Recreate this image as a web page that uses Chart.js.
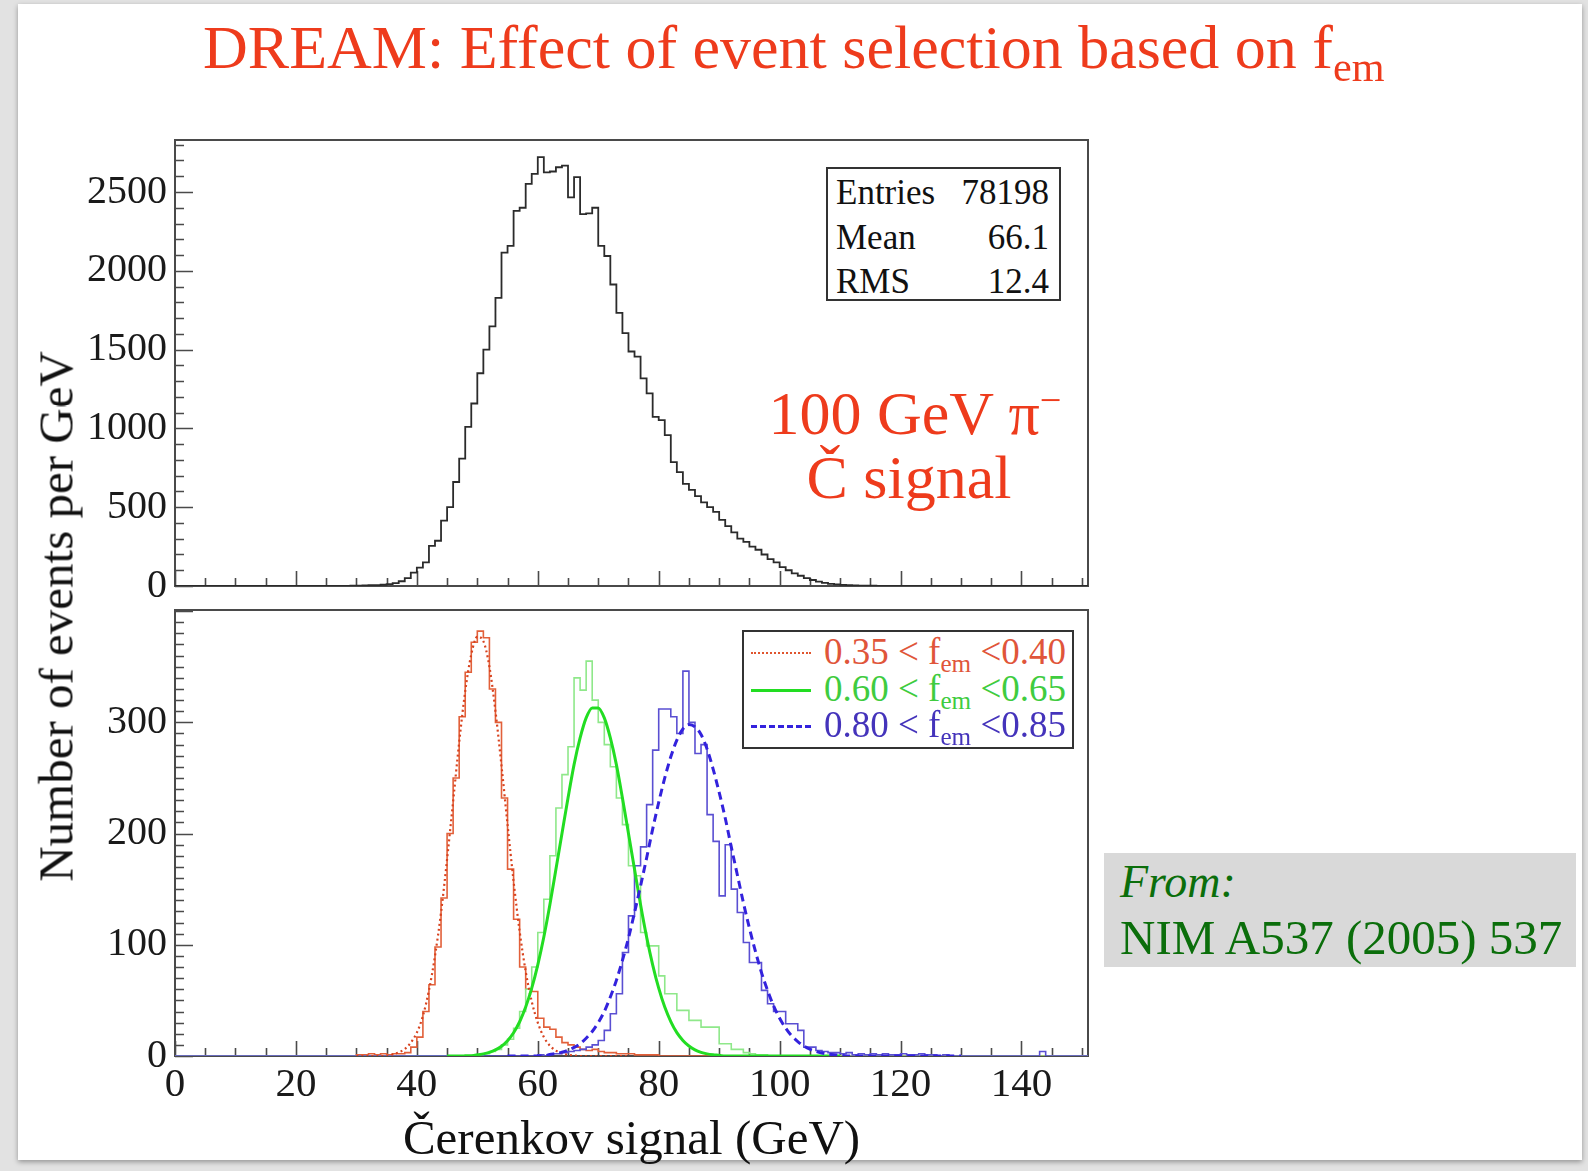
<!DOCTYPE html>
<html>
<head>
<meta charset="utf-8">
<script src="https://cdn.jsdelivr.net/npm/chart.js@4.4.1/dist/chart.umd.min.js"></script>
<style>
  html, body { margin: 0; padding: 0; }
  body {
    width: 1588px; height: 1171px; position: relative; overflow: hidden;
    background: #e2e2e2;
    font-family: "Liberation Serif", "Times New Roman", serif;
  }
  #slide { position: absolute; left: 18px; top: 4px; width: 1564px; height: 1156px; background: #fff; box-shadow: 0 2px 5px rgba(0,0,0,0.35); }
  canvas { position: absolute; left: 0; }
  .txt { position: absolute; white-space: nowrap; line-height: 1; }
  sub { font-size: 68%; vertical-align: -0.32em; line-height: 0; }
  sup { font-size: 62%; vertical-align: 0.55em; line-height: 0; }
  #title { left: 203px; top: 16px; font-size: 62px; color: #ee3b1c; }
  #ytitle { left: -244px; top: 592px; width: 600px; text-align: center; font-size: 49px; color: #111; transform: rotate(-90deg); }
  #stats { position: absolute; left: 826px; top: 167px; width: 231px; height: 130px; border: 2px solid #333; background: #fff; font-size: 35px; color: #111; }
  #stats .l { position: absolute; left: 8px; }
  #stats .r { position: absolute; right: 10px; }
  .beam { position: absolute; left: 690px; width: 450px; text-align: center; font-size: 62px; color: #ee3b1c; }
  #legend { position: absolute; left: 742px; top: 630px; width: 328px; height: 115px; border: 2px solid #333; background: #fff; font-size: 37px; }
  #legend .row { position: absolute; left: 0; height: 36px; width: 328px; }
  #legend .smp { position: absolute; left: 7px; top: 18px; width: 60px; height: 0; }
  #legend .lab { position: absolute; left: 80px; top: -1px; }
  #from { position: absolute; left: 1104px; top: 853px; width: 472px; height: 114px; background: #d9d9d9; color: #0b6e0b; }
</style>
</head>
<body>
<div id="slide"></div>
<canvas id="topChart" width="1100" height="640" style="top:0px"></canvas>
<canvas id="botChart" width="1100" height="611" style="top:560px"></canvas>

<div class="txt" id="title">DREAM: Effect of event selection based on f<sub>em</sub></div>
<div class="txt" id="ytitle">Number of events per GeV</div>

<div id="stats">
  <span class="txt l" style="top:6px">Entries</span><span class="txt r" style="top:6px">78198</span>
  <span class="txt l" style="top:51px">Mean</span><span class="txt r" style="top:51px">66.1</span>
  <span class="txt l" style="top:95px">RMS</span><span class="txt r" style="top:95px">12.4</span>
</div>

<div class="txt beam" style="top:382px">100 GeV π<sup>−</sup></div>
<div class="txt beam" style="top:446px;left:684px">Č signal</div>

<div id="legend">
  <div class="row" style="top:2px"><div class="smp" style="border-top:2px dotted #e0552e"></div><span class="txt lab" style="color:#e0553a">0.35 &lt; f<sub>em</sub> &lt;0.40</span></div>
  <div class="row" style="top:39px"><div class="smp" style="border-top:3px solid #22dd22"></div><span class="txt lab" style="color:#3fcc3f">0.60 &lt; f<sub>em</sub> &lt;0.65</span></div>
  <div class="row" style="top:75px"><div class="smp" style="border-top:3px dashed #3322dd"></div><span class="txt lab" style="color:#4433bb">0.80 &lt; f<sub>em</sub> &lt;0.85</span></div>
</div>

<div id="from">
  <div class="txt" style="left:16px;top:6px;font-size:46px;font-style:italic">From:</div>
  <div class="txt" style="left:16px;top:60px;font-size:49px">NIM A537 (2005) 537</div>
</div>

<script>
// x range of both panels, GeV (1 GeV bins)
const xMin = 0;
const xMax = 151;
const xTicks = [0, 20, 40, 60, 80, 100, 120, 140];
const topYTicks = [0, 500, 1000, 1500, 2000, 2500];
const botYTicks = [0, 100, 200, 300];

// top panel: all events, counts per bin starting at topStart GeV
const topStart = 29;
const topCounts = [2, 3, 4, 5, 6, 8, 12, 18, 30, 50,
  85, 117, 150, 255, 287, 415, 500, 660, 808, 1010,
  1158, 1350, 1500, 1648, 1828, 2115, 2158, 2380, 2400, 2551,
  2615, 2721, 2625, 2630, 2657, 2668, 2466, 2594, 2360, 2365,
  2400, 2158, 2094, 1913, 1733, 1605, 1488, 1456, 1318, 1222,
  1073, 1052, 957, 786, 723, 648, 610, 570, 530, 500,
  470, 420, 380, 340, 300, 280, 250, 230, 200, 170,
  150, 120, 100, 80, 65, 50, 38, 28, 20, 14,
  10, 7, 5, 4, 3, 2, 2, 1];

// bottom panel: three f_em slices
const redStart = 30;   // 0.35 < fem < 0.40
const redCounts = [1, 1, 2, 1, 2, 1, 2, 2, 3, 8,
  17, 40, 64, 98, 142, 200, 250, 305, 345, 372,
  382, 376, 330, 300, 232, 168, 123, 80, 60, 58,
  34, 26, 24, 17, 12, 10, 8, 6, 5, 6,
  4, 3, 3, 2, 2, 2, 1, 1, 1, 1];

const greenStart = 48; // 0.60 < fem < 0.65
const greenCounts = [1, 1, 1, 2, 4, 6, 10, 15, 25, 40,
  60, 80, 111, 141, 180, 223, 253, 278, 340, 329,
  355, 320, 300, 280, 260, 232, 208, 171, 162, 111,
  99, 99, 72, 56, 56, 41, 41, 32, 32, 26,
  26, 26, 11, 11, 6, 6, 3, 2, 1, 1];

const blueStart = 60;  // 0.80 < fem < 0.85
const blueCounts = [1, 0, 2, 2, 3, 4, 5, 6, 8, 10,
  14, 23, 38, 56, 93, 126, 171, 188, 226, 275,
  312, 312, 305, 290, 346, 300, 272, 280, 217, 193,
  144, 190, 150, 129, 102, 84, 84, 59, 47, 40,
  40, 29, 29, 23, 8, 8, 5, 4, 3, 3,
  2, 3, 1, 2, 1, 2, 1, 2, 1, 1,
  2, 1, 1, 2, 1, 1, 0, 1, 0, 0,
  0, 0, 0, 0, 0, 0, 0, 0, 0, 0,
  0, 0, 0, 4, 0];

// gaussian fits, values at each GeV from the fit start
const redFitStart = 36;
const redFit = [1.5, 3.2, 6.3, 12, 21, 36, 59, 90, 129, 177,
  229, 282, 328, 361, 377, 373, 350, 310, 261, 208,
  157, 112, 76, 49, 30, 17, 9.3, 4.8, 2.4, 1.1, 0.5];
const redFitRange = [30, 75];

const greenFitStart = 50;
const greenFit = [1.1, 1.9, 3.3, 5.5, 8.8, 13.8, 20.9, 30.8, 44, 61,
  82, 107, 136, 168, 200, 232, 262, 286, 304, 313,
  313, 304, 286, 262, 232, 200, 168, 136, 107, 82,
  61, 44, 31, 21, 14, 9, 5.5, 3.3, 1.9, 1.1, 0.6];
const greenFitRange = [45, 110];

const blueFitStart = 62;
const blueFit = [1.4, 2.2, 3.5, 5.2, 7.7, 11, 16, 22, 30, 40,
  53, 68, 86, 106, 129, 153, 178, 204, 228, 250,
  269, 284, 294, 298, 296, 289, 276, 258, 237, 214,
  188, 163, 138, 115, 94, 75, 59, 45, 34, 25,
  18, 13, 9, 6.1, 4.1, 2.7, 1.7, 1.1, 0.7];
const blueFitRange = [55, 130];

// build step-histogram points over the full x range
function histPoints(start, counts) {
  const pts = [];
  for (let b = xMin; b < xMax; b++) {
    const i = b - start;
    pts.push({ x: b, y: i >= 0 && i < counts.length ? counts[i] : 0 });
  }
  pts.push({ x: xMax, y: pts[pts.length - 1].y });
  return pts;
}

function fitPoints(start, vals, range) {
  const pts = [];
  for (let g = range[0]; g <= range[1]; g++) {
    const i = g - start;
    pts.push({ x: g, y: i >= 0 && i < vals.length ? vals[i] : 0 });
  }
  return pts;
}

const serif = "'Liberation Serif', 'Times New Roman', serif";
const plain = v => String(v);

// ROOT style frame with inward tick marks
const rootFrame = {
  id: 'rootFrame',
  beforeDatasetsDraw(chart, args, opts) {
    const { ctx, chartArea: a } = chart;
    const x = chart.scales.x, y = chart.scales.y;
    ctx.save();
    ctx.strokeStyle = '#4a4a4a';
    ctx.lineWidth = 2;
    ctx.strokeRect(a.left, a.top, a.right - a.left, a.bottom - a.top);
    ctx.lineWidth = 1.6;
    ctx.beginPath();
    for (let v = 0; v <= 150; v += 5) {
      const px = Math.round(x.getPixelForValue(v)) + 0.5;
      const len = v % 20 === 0 ? 15 : 8;
      ctx.moveTo(px, a.bottom);
      ctx.lineTo(px, a.bottom - len);
    }
    for (let k = 0; k * opts.minor <= y.max; k++) {
      const v = k * opts.minor;
      const py = Math.round(y.getPixelForValue(v)) + 0.5;
      const len = v % opts.major === 0 ? 18 : 9;
      ctx.moveTo(a.left, py);
      ctx.lineTo(a.left + len, py);
    }
    ctx.stroke();
    ctx.restore();
  }
};

new Chart(document.getElementById('topChart'), {
  type: 'line',
  data: {
    datasets: [{
      data: histPoints(topStart, topCounts),
      stepped: 'before',
      borderColor: '#2b2b2b',
      borderWidth: 1.8,
      pointRadius: 0,
      fill: false
    }]
  },
  options: {
    responsive: false,
    animation: false,
    layout: { padding: { top: 140, right: 12, bottom: 54, left: 0 } },
    plugins: { legend: { display: false }, tooltip: { enabled: false }, rootFrame: { minor: 100, major: 500 } },
    scales: {
      x: { type: 'linear', min: xMin, max: xMax, display: false },
      y: {
        min: 0, max: 2830,
        afterBuildTicks(scale) { scale.ticks = topYTicks.map(v => ({ value: v })); },
        ticks: { padding: 8, color: '#1a1a1a', font: { family: serif, size: 40 }, callback: plain },
        grid: { display: false, drawTicks: false },
        border: { display: false },
        afterFit(scale) { scale.width = 175; }
      }
    }
  },
  plugins: [rootFrame]
});

new Chart(document.getElementById('botChart'), {
  type: 'line',
  data: {
    datasets: [
      { data: fitPoints(blueFitStart, blueFit, blueFitRange), borderColor: '#3322dd', borderWidth: 3, borderDash: [8, 5], cubicInterpolationMode: 'monotone', pointRadius: 0, fill: false },
      { data: fitPoints(greenFitStart, greenFit, greenFitRange), borderColor: '#22dd22', borderWidth: 3, cubicInterpolationMode: 'monotone', pointRadius: 0, fill: false },
      { data: fitPoints(redFitStart, redFit, redFitRange), borderColor: '#d8431f', borderWidth: 2.2, borderDash: [2, 3], cubicInterpolationMode: 'monotone', pointRadius: 0, fill: false },
      { data: histPoints(blueStart, blueCounts), stepped: 'before', borderColor: '#5a4fd2', borderWidth: 1.6, pointRadius: 0, fill: false },
      { data: histPoints(greenStart, greenCounts), stepped: 'before', borderColor: '#8fe88a', borderWidth: 1.6, pointRadius: 0, fill: false },
      { data: histPoints(redStart, redCounts), stepped: 'before', borderColor: '#e2603a', borderWidth: 1.6, pointRadius: 0, fill: false }
    ]
  },
  options: {
    responsive: false,
    animation: false,
    layout: { padding: { top: 50, right: 12, bottom: 0, left: 0 } },
    plugins: { legend: { display: false }, tooltip: { enabled: false }, rootFrame: { minor: 10, major: 100 } },
    scales: {
      x: {
        type: 'linear', min: xMin, max: xMax,
        afterBuildTicks(scale) { scale.ticks = xTicks.map(v => ({ value: v })); },
        ticks: { padding: 5, color: '#1a1a1a', font: { family: serif, size: 41 }, callback: plain },
        grid: { display: false, drawTicks: false },
        border: { display: false },
        title: { display: true, text: 'Čerenkov signal (GeV)', color: '#111', font: { family: serif, size: 49 }, padding: { top: 0, bottom: 0 } },
        afterFit(scale) { scale.height = 115; }
      },
      y: {
        min: 0, max: 401,
        afterBuildTicks(scale) { scale.ticks = botYTicks.map(v => ({ value: v })); },
        ticks: { padding: 8, color: '#1a1a1a', font: { family: serif, size: 40 }, callback: plain },
        grid: { display: false, drawTicks: false },
        border: { display: false },
        afterFit(scale) { scale.width = 175; }
      }
    }
  },
  plugins: [rootFrame]
});
</script>
</body>
</html>
